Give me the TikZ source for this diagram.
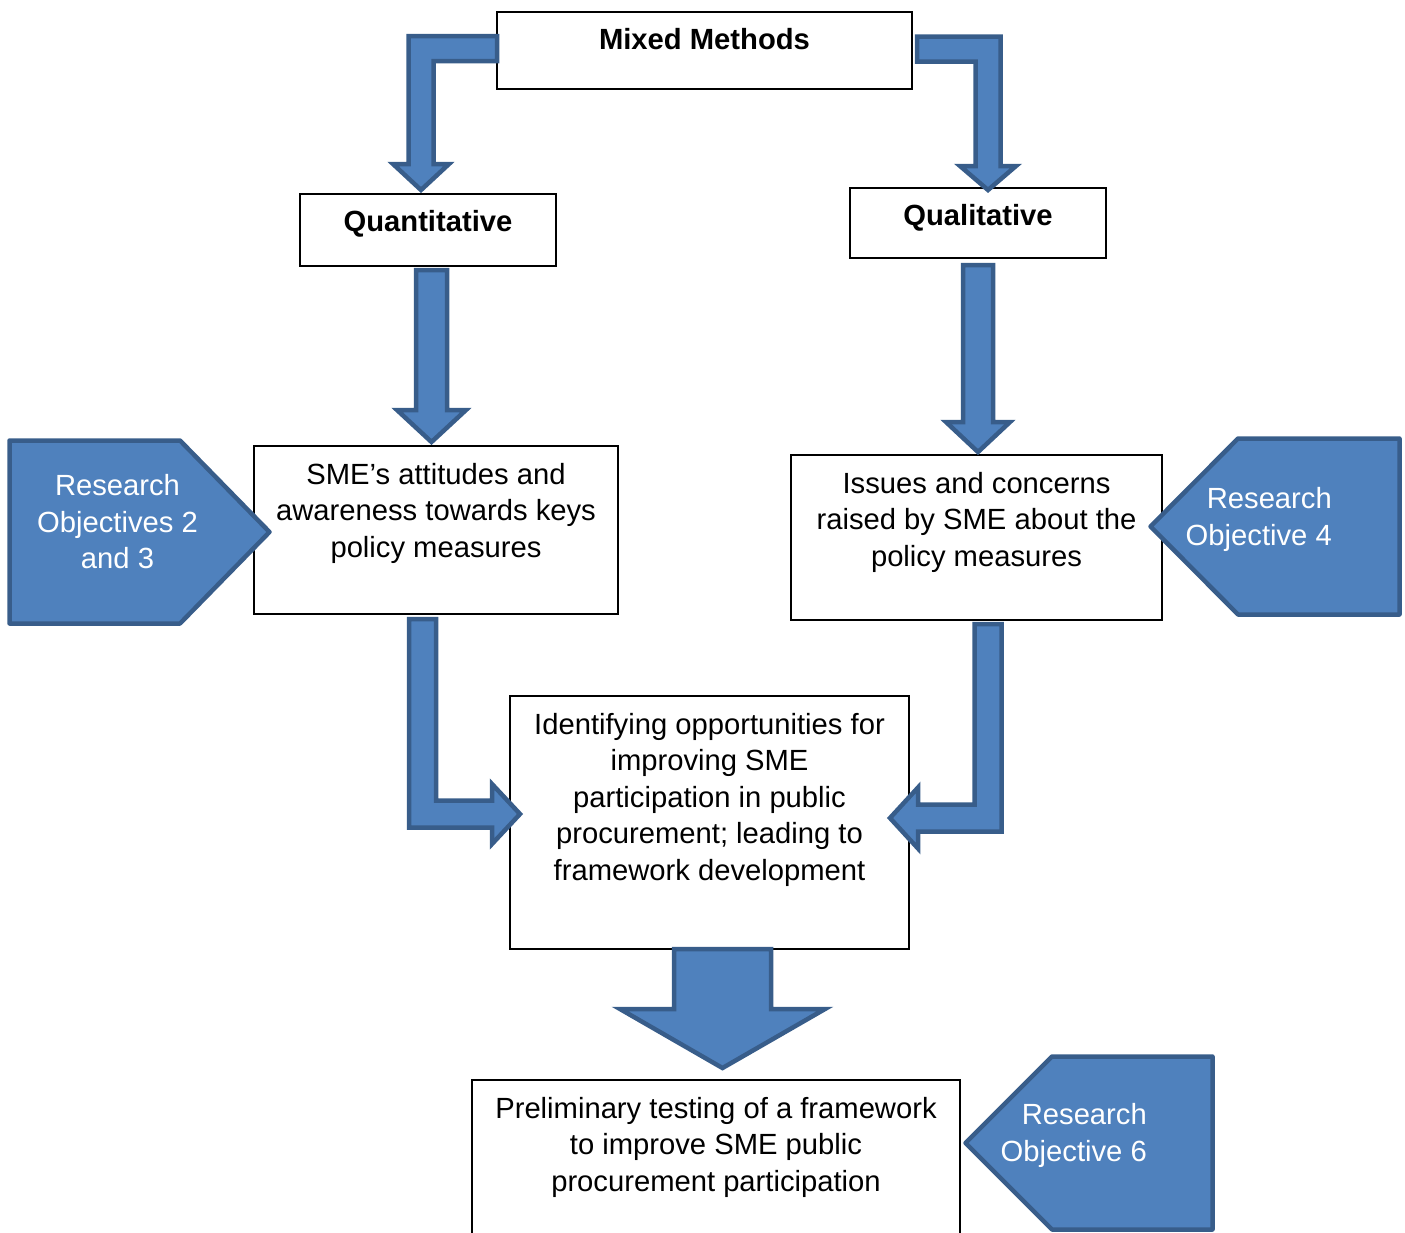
\documentclass[tikz,border=0pt]{standalone}
\usepackage{fontspec}
\setmainfont{Liberation Sans}
\usetikzlibrary{calc}

\definecolor{blockfill}{HTML}{4F81BD}
\definecolor{blockline}{HTML}{385D8A}

% straight block arrow pointing down: #1 top centre, #2 tip, #3 shaft half width, #4 head half width, #5 head length
\newcommand{\downblock}[5]{%
  \draw[blockarrow] let \p1=(#1), \p2=(#2) in
    (\x1-#3pt,\y1) -- (\x1-#3pt,\y2+#5pt) -- (\x1-#4pt,\y2+#5pt) -- (\x1,\y2)
    -- (\x1+#4pt,\y2+#5pt) -- (\x1+#3pt,\y2+#5pt) -- (\x1+#3pt,\y1) -- cycle;}
% bent arrow: runs left from #1 (arm centre), then down to tip #2
\newcommand{\leftdownblock}[5]{%
  \draw[blockarrow] let \p1=(#1), \p2=(#2) in
    (\x1,\y1+#3pt) -- (\x2-#3pt,\y1+#3pt) -- (\x2-#3pt,\y2+#5pt) -- (\x2-#4pt,\y2+#5pt) -- (\x2,\y2)
    -- (\x2+#4pt,\y2+#5pt) -- (\x2+#3pt,\y2+#5pt) -- (\x2+#3pt,\y1-#3pt) -- (\x1,\y1-#3pt) -- cycle;}
% bent arrow: runs right from #1 (arm centre), then down to tip #2
\newcommand{\rightdownblock}[5]{%
  \draw[blockarrow] let \p1=(#1), \p2=(#2) in
    (\x1,\y1+#3pt) -- (\x2+#3pt,\y1+#3pt) -- (\x2+#3pt,\y2+#5pt) -- (\x2+#4pt,\y2+#5pt) -- (\x2,\y2)
    -- (\x2-#4pt,\y2+#5pt) -- (\x2-#3pt,\y2+#5pt) -- (\x2-#3pt,\y1-#3pt) -- (\x1,\y1-#3pt) -- cycle;}
% bent arrow: runs down from #1 (shaft top centre), then right to tip #2
\newcommand{\downrightblock}[5]{%
  \draw[blockarrow] let \p1=(#1), \p2=(#2) in
    (\x1-#3pt,\y1) -- (\x1-#3pt,\y2-#3pt) -- (\x2-#5pt,\y2-#3pt) -- (\x2-#5pt,\y2-#4pt) -- (\x2,\y2)
    -- (\x2-#5pt,\y2+#4pt) -- (\x2-#5pt,\y2+#3pt) -- (\x1+#3pt,\y2+#3pt) -- (\x1+#3pt,\y1) -- cycle;}
% bent arrow: runs down from #1 (shaft top centre), then left to tip #2
\newcommand{\downleftblock}[5]{%
  \draw[blockarrow] let \p1=(#1), \p2=(#2) in
    (\x1+#3pt,\y1) -- (\x1+#3pt,\y2-#3pt) -- (\x2+#5pt,\y2-#3pt) -- (\x2+#5pt,\y2-#4pt) -- (\x2,\y2)
    -- (\x2+#5pt,\y2+#4pt) -- (\x2+#5pt,\y2+#3pt) -- (\x1-#3pt,\y2+#3pt) -- (\x1-#3pt,\y1) -- cycle;}

\begin{document}
\begin{tikzpicture}[x=1pt,y=-1pt,
  box/.style={draw=black,line width=1.2pt,fill=white,inner sep=0pt,outer sep=0pt},
  txt/.style={inner sep=0pt,align=center,anchor=north,
    font=\fontsize{29.2}{36.5}\selectfont},
  objtxt/.style={txt,text=white},
  blockarrow/.style={fill=blockfill,draw=blockline,line width=4.5pt,line join=miter},
  tag/.style={fill=blockfill,draw=blockline,line width=4.5pt,line join=round}]

\useasboundingbox (0,0) rectangle (1405,1232);
\clip (0,0) rectangle (1405,1232);

% boxes
\node[box,minimum width=415,minimum height=77] (mm) at (704.5,50.5) {};
\node[box,minimum width=256,minimum height=72] (qt) at (428,230) {};
\node[box,minimum width=256,minimum height=70] (ql) at (978,223) {};
\node[box,minimum width=364,minimum height=168] (sme) at (436,530) {};
\node[box,minimum width=371,minimum height=165] (is) at (976.5,537.5) {};
\node[box,minimum width=399,minimum height=253] (id) at (709.5,822.5) {};
\node[box,minimum width=488,minimum height=170] (pr) at (716,1165) {};

% block arrows
\leftdownblock{$(mm.west)+(0,-2)$}{$(qt.north)+(-7,-4)$}{12.5}{28}{26}
\rightdownblock{$(mm.east)+(5,-1.5)$}{$(ql.north)+(10,2)$}{12.5}{28}{24}
\downblock{$(qt.south)+(3.5,4)$}{$(sme.north)+(-4.5,-4)$}{15.5}{34.5}{32}
\downblock{$(ql.south)+(0,7)$}{$(is.north)+(1.5,-3)$}{15}{32}{30}
\downrightblock{$(sme.south)+(-13.5,5)$}{$(id.west)+(10,-8.5)$}{13.5}{30}{28}
\downleftblock{$(is.south)+(11.5,4)$}{$(id.east)+(-19,-4.5)$}{13.5}{30.5}{28}
\downblock{$(id.south)+(13,0)$}{$(pr.north)+(6.5,-12)$}{48.5}{102.5}{59}

% objective tags
\draw[tag] (9.5,440.5) -- (180,440.5) -- (269.5,532) -- (180,623.5) -- (9.5,623.5) -- cycle;
\draw[tag] (1399.5,438.5) -- (1238,438.5) -- (1150.5,526.5) -- (1238,614.5) -- (1399.5,614.5) -- cycle;
\draw[tag] (1212.5,1056.5) -- (1052,1056.5) -- (965.5,1143) -- (1052,1229.5) -- (1212.5,1229.5) -- cycle;

\node[objtxt] (ro23) at (117.5,470) {\strut Research\\Objectives 2\\and 3};
\node[objtxt,align=right,anchor=north east] (ro4) at (1332,483) {\strut Research\\Objective 4};
\node[objtxt,align=right,anchor=north east] (ro6) at (1147,1099) {\strut Research\\Objective 6};

% box texts
\node[txt,font=\fontsize{29.2}{36.5}\selectfont\bfseries] (mmt) at ($(mm.north)+(0,12)$) {\strut Mixed Methods};
\node[txt,font=\fontsize{29.2}{36.5}\selectfont\bfseries] (qtt) at ($(qt.north)+(0,12)$) {\strut Quantitative};
\node[txt,font=\fontsize{29.2}{36.5}\selectfont\bfseries] (qlt) at ($(ql.north)+(0,12)$) {\strut Qualitative};
\node[txt] (smet) at ($(sme.north)+(0,12.5)$) {\strut SME’s attitudes and\\awareness towards keys\\policy measures};
\node[txt] (ist) at ($(is.north)+(0,12.5)$) {\strut Issues and concerns\\raised by SME about the\\policy measures};
\node[txt] (idt) at ($(id.north)+(0,12.5)$) {\strut Identifying opportunities for\\improving SME\\participation in public\\procurement; leading to\\framework development};
\node[txt] (prt) at ($(pr.north)+(0,12.5)$) {\strut Preliminary testing of a framework\\to improve SME public\\procurement participation};

\end{tikzpicture}
\end{document}
